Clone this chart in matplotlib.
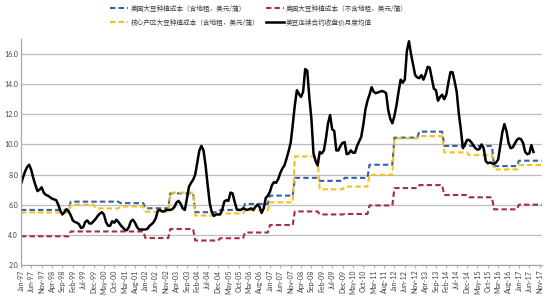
import numpy as np
import pandas as pd
import matplotlib
matplotlib.use('Agg')
import matplotlib.pyplot as plt

plt.rcParams['font.family'] = ['Lato', 'Noto Sans CJK SC', 'DejaVu Sans']

months = pd.date_range('1997-01-01', '2017-12-01', freq='MS')
years = list(range(1997, 2018))

# annual cost (USD/bushel), 1997..2017
cost_us = [5.65, 5.65, 6.2, 6.2, 6.1, 5.76, 6.75, 5.5, 5.65, 6.05, 6.6,
           7.78, 7.58, 7.78, 8.65, 10.45, 10.85, 9.9, 9.9, 8.56, 8.92]
cost_us_norent = [3.9, 3.9, 4.22, 4.22, 4.22, 3.78, 4.38, 3.62, 3.77, 4.15, 4.65,
                  5.55, 5.35, 5.38, 5.95, 7.1, 7.3, 6.64, 6.49, 5.69, 6.0]
cost_core = [5.48, 5.48, 6.0, 5.75, 5.88, 5.53, 6.8, 5.28, 5.42, 5.62, 6.15,
             9.2, 7.02, 7.2, 7.98, 10.4, 10.55, 9.47, 9.29, 8.34, 8.63]

# monthly mean of continuous soybean contract close, Jan-97 .. Aug-17
price = [
    7.35, 7.8, 8.2, 8.5, 8.65, 8.3, 7.75, 7.3, 6.9, 7.0, 7.15, 6.8,        # 1997
    6.65, 6.6, 6.5, 6.4, 6.35, 6.3, 6.0, 5.6, 5.35, 5.5, 5.7, 5.55,       # 1998
    5.3, 4.95, 4.85, 4.8, 4.7, 4.45, 4.5, 4.85, 4.95, 4.75, 4.75, 4.9,    # 1999
    5.05, 5.25, 5.4, 5.5, 5.35, 4.85, 4.6, 4.6, 4.9, 4.8, 5.0, 4.85,      # 2000
    4.65, 4.5, 4.35, 4.3, 4.5, 4.9, 5.0, 4.8, 4.5, 4.35, 4.35, 4.35,      # 2001
    4.35, 4.4, 4.6, 4.7, 4.85, 5.1, 5.6, 5.65, 5.55, 5.55, 5.65, 5.65,    # 2002
    5.65, 5.7, 5.85, 6.15, 6.25, 6.05, 5.75, 5.65, 6.4, 7.2, 7.45, 7.65,  # 2003
    8.0, 8.8, 9.6, 9.9, 9.6, 8.6, 7.3, 6.1, 5.5, 5.25, 5.35, 5.35,        # 2004
    5.35, 5.65, 6.2, 6.3, 6.25, 6.8, 6.75, 6.2, 5.7, 5.65, 5.65, 5.75,    # 2005
    5.7, 5.65, 5.7, 5.75, 5.65, 5.85, 6.0, 5.85, 5.45, 5.75, 6.45, 6.6,   # 2006
    6.85, 7.3, 7.5, 7.45, 7.7, 8.1, 8.4, 8.6, 9.05, 9.55, 10.1, 11.3,     # 2007
    12.6, 13.6, 13.35, 13.15, 13.5, 15.0, 14.9, 13.1, 11.7, 9.4, 8.9, 8.6,  # 2008
    9.5, 9.4, 9.6, 10.4, 11.4, 11.95, 11.0, 10.9, 9.6, 9.6, 9.9, 10.1,    # 2009
    10.15, 9.35, 9.4, 9.6, 9.45, 9.45, 9.9, 10.2, 10.5, 11.3, 12.3, 12.9,  # 2010
    13.3, 13.8, 13.5, 13.4, 13.45, 13.5, 13.55, 13.5, 13.4, 12.3, 11.7, 11.4,  # 2011
    11.9, 12.6, 13.5, 14.3, 14.1, 14.3, 16.2, 16.85, 16.0, 15.3, 14.6, 14.45,  # 2012
    14.4, 14.6, 14.3, 14.65, 15.15, 15.1, 14.4, 13.7, 13.6, 12.9, 13.15, 13.3,  # 2013
    13.0, 13.3, 14.1, 14.8, 14.8, 14.2, 13.5, 12.1, 11.0, 9.75, 10.0, 10.3,  # 2014
    10.3, 10.15, 9.95, 9.75, 9.65, 9.7, 10.0, 9.75, 8.9, 8.75, 8.8, 8.75,  # 2015
    8.7, 8.8, 9.0, 9.9, 10.8, 11.35, 10.9, 10.1, 9.75, 9.8, 10.05, 10.3,   # 2016
    10.4, 10.35, 10.1, 9.5, 9.35, 9.4, 9.95, 9.5,                          # 2017
]

labels = ['美国大豆种植成本（含地租，美元/蒲）',
          '核心产区大豆种植成本（含地租，美元/蒲）',
          '美国大豆种植成本（不含地租，美元/蒲）',
          '美豆连续合约收盘价月度均值']

x = np.arange(len(months))

fig = plt.figure(figsize=(5.5, 3.0), dpi=100)
ax = fig.add_axes([0.038, 0.117, 0.947, 0.753])

dash = (2.6, 1.5)
l1, = ax.plot(x, np.repeat(cost_us, 12), color='#3b5fa3', lw=1.5, dashes=dash)
l2, = ax.plot(x, np.repeat(cost_core, 12), color='#f2c21b', lw=1.5, dashes=dash)
l3, = ax.plot(x, np.repeat(cost_us_norent, 12), color='#a3303f', lw=1.5, dashes=dash)
l4, = ax.plot(x[:len(price)], price, color='black', lw=1.8)

ax.set_ylim(2, 17)
ax.set_xlim(0, len(months) - 1)
ax.set_yticks(np.arange(2, 17, 2))
ax.set_yticklabels(['%.1f' % v for v in np.arange(2, 17, 2)], fontsize=5, color='#404040')
tick_pos = x[::5]
ax.set_xticks(tick_pos)
ax.set_xticklabels([months[i].strftime('%b-%y') for i in tick_pos],
                   rotation=90, fontsize=5, color='#404040')
ax.tick_params(axis='x', length=2, width=0.6, color='#a0a0a0', pad=1.5)
ax.tick_params(axis='y', length=0, pad=2)

ax.grid(axis='y', color='#bdbdbd', lw=0.9)
ax.set_axisbelow(True)
for s in ['top', 'right']:
    ax.spines[s].set_visible(False)
for s in ['left', 'bottom']:
    ax.spines[s].set_color('#a8a8a8')
    ax.spines[s].set_linewidth(0.9)

leg = fig.legend([l1, l2, l3, l4], labels, ncol=2, loc='upper left',
                 bbox_to_anchor=(0.2, 0.985), frameon=False,
                 prop={'family': ['Noto Sans CJK SC', 'DejaVu Sans'], 'size': 4.8},
                 handlelength=2.7, columnspacing=1.0, labelspacing=0.9,
                 handletextpad=0.35, borderpad=0, borderaxespad=0)
for t in leg.get_texts():
    t.set_color('#404040')

fig.savefig('out.png', dpi=100)
